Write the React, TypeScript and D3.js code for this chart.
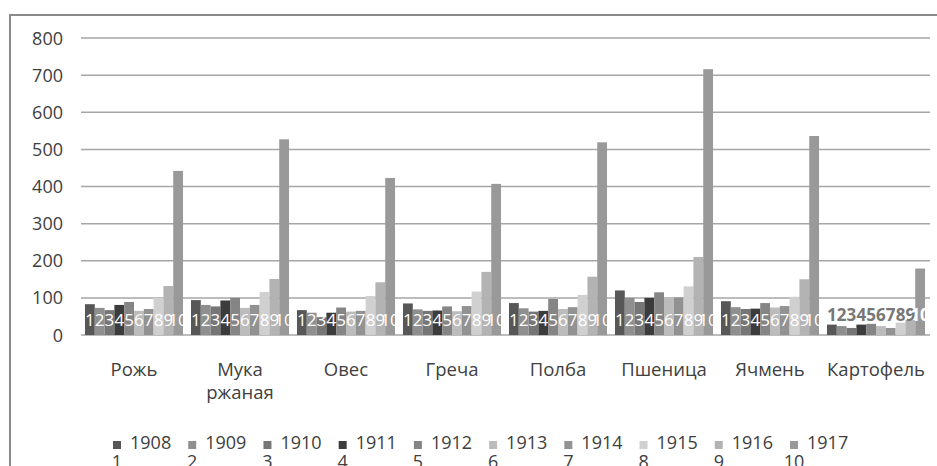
import * as d3 from "d3";
import { useEffect, useRef } from "react";

// ---- data ----
const categories = ["Рожь", "Мука ржаная", "Овес", "Греча", "Полба", "Пшеница", "Ячмень", "Картофель"];
const years = ["1908", "1909", "1910", "1911", "1912", "1913", "1914", "1915", "1916", "1917"];
const seriesIndex = ["1", "2", "3", "4", "5", "6", "7", "8", "9", "10"];
const yTicks = [0, 100, 200, 300, 400, 500, 600, 700, 800];

const v1908 = [83, 94, 67, 85, 86, 120, 91, 28];
const v1909 = [73, 81, 60, 69, 72, 100, 75, 24];
const v1910 = [67, 77, 48, 65, 63, 89, 70, 19];
const v1911 = [81, 93, 60, 66, 65, 100, 71, 28];
const v1912 = [89, 100, 74, 77, 97, 115, 86, 30];
const v1913 = [65, 73, 63, 64, 70, 99, 74, 24];
const v1914 = [70, 81, 65, 78, 75, 101, 78, 19];
const v1915 = [100, 116, 105, 117, 108, 131, 103, 33];
const v1916 = [132, 151, 142, 170, 157, 210, 150, 40];
const v1917 = [442, 527, 423, 407, 519, 716, 536, 179];

const series = [v1908, v1909, v1910, v1911, v1912, v1913, v1914, v1915, v1916, v1917];
const colors = ["#575757", "#8f8f8f", "#767676", "#3c3c3c", "#858585", "#bcbcbc", "#929292", "#d0d0d0", "#b3b3b3", "#999999"];

export default function App() {
  const ref = useRef<SVGSVGElement>(null);

  useEffect(() => {
    const width = 937;
    const height = 466;
    const font = "'Open Sans', sans-serif";
    const textColor = "#404040";

    const svg = d3.select(ref.current);
    svg.selectAll("*").remove();

    // outer frame (only left + top visible)
    svg.append("rect")
      .attr("x", 10).attr("y", 15)
      .attr("width", 1000).attr("height", 600)
      .attr("fill", "#fff")
      .attr("stroke", "#8a8a8a")
      .attr("stroke-width", 2);

    // ---- scales ----
    const x = d3.scaleBand<string>()
      .domain(categories)
      .range([81, 929])
      .paddingInner(0.075)
      .paddingOuter(0.0375);

    const xs = d3.scaleBand<string>()
      .domain(seriesIndex)
      .range([0, x.bandwidth()]);

    const y = d3.scaleLinear().domain([0, 800]).range([335, 38]);

    // grid lines
    svg.append("g")
      .selectAll("line")
      .data(yTicks)
      .join("line")
      .attr("x1", 81).attr("x2", 930)
      .attr("y1", d => y(d)).attr("y2", d => y(d))
      .attr("stroke", "#a6a6a6")
      .attr("stroke-width", 1.5);

    // y tick labels
    svg.append("g")
      .selectAll("text")
      .data(yTicks)
      .join("text")
      .attr("x", 63)
      .attr("y", d => y(d) + 6.5)
      .attr("text-anchor", "end")
      .attr("font-family", font)
      .attr("font-size", 18)
      .attr("fill", textColor)
      .text(d => d);

    // ---- bars ----
    const cats = svg.append("g")
      .selectAll("g")
      .data(categories)
      .join("g")
      .attr("transform", d => `translate(${x(d)},0)`);

    cats.each(function (cat, ci) {
      const g = d3.select(this);
      const vals = series.map(s => s[ci]);
      // short category (Картофель): labels float above the bars
      const short = (d3.max(vals.slice(0, 9)) ?? 0) < 45;
      const labelY = short ? 321 : 326;

      g.selectAll("rect")
        .data(vals)
        .join("rect")
        .attr("x", (_, i) => xs(seriesIndex[i]) ?? 0)
        .attr("y", d => y(d))
        .attr("width", xs.bandwidth())
        .attr("height", d => y(0) - y(d))
        .attr("fill", (_, i) => colors[i]);

      g.selectAll("text")
        .data(vals)
        .join("text")
        .attr("x", (_, i) => (xs(seriesIndex[i]) ?? 0) + xs.bandwidth() / 2)
        .attr("y", labelY)
        .attr("text-anchor", "middle")
        .attr("font-family", font)
        .attr("font-size", 17)
        .attr("font-weight", short ? 700 : 400)
        .attr("fill", d => (short && y(d) > labelY - 12 ? "#777" : "#fff"))
        .text((_, i) => seriesIndex[i]);
    });

    // category labels (wrapped)
    const catLabels = svg.append("g")
      .selectAll("text")
      .data(categories)
      .join("text")
      .attr("x", d => (x(d) ?? 0) + x.bandwidth() / 2)
      .attr("y", 376)
      .attr("text-anchor", "middle")
      .attr("font-family", font)
      .attr("font-size", 18.5)
      .attr("fill", textColor);

    catLabels.each(function (d) {
      const t = d3.select(this);
      d.split(" ").forEach((w, i) => {
        t.append("tspan")
          .attr("x", (x(d) ?? 0) + x.bandwidth() / 2)
          .attr("dy", i === 0 ? 0 : 23)
          .text(w);
      });
    });

    // ---- legend ----
    const lx = d3.scaleLinear().domain([0, 9]).range([113, 790]);
    const leg = svg.append("g")
      .selectAll("g")
      .data(years)
      .join("g")
      .attr("transform", (_, i) => `translate(${lx(i)},0)`);

    leg.append("rect")
      .attr("x", 0).attr("y", 441)
      .attr("width", 8).attr("height", 8)
      .attr("fill", (_, i) => colors[i]);

    leg.append("text")
      .attr("x", 17).attr("y", 449)
      .attr("font-family", font)
      .attr("font-size", 18)
      .attr("fill", textColor)
      .text(d => d);

    leg.append("text")
      .attr("x", 4).attr("y", 468)
      .attr("text-anchor", "middle")
      .attr("font-family", font)
      .attr("font-size", 18)
      .attr("fill", textColor)
      .text((_, i) => seriesIndex[i]);

    svg.attr("viewBox", `0 0 ${width} ${height}`);
  }, []);

  return (
    <svg
      ref={ref}
      width={937}
      height={466}
      style={{ position: "absolute", left: 0, top: 0, background: "#fff" }}
    />
  );
}
